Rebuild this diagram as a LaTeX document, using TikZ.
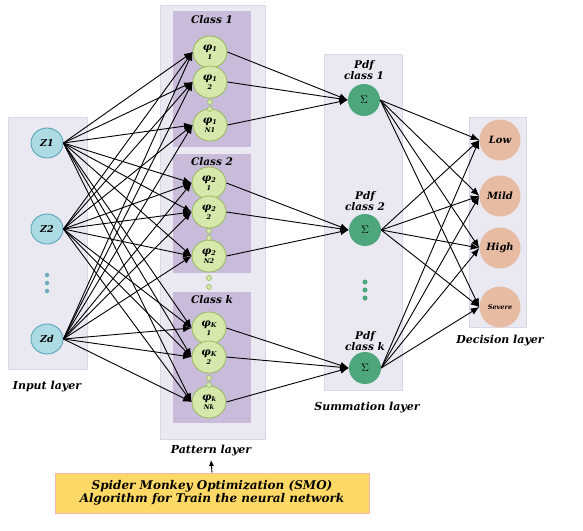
\documentclass[tikz,border=0pt]{standalone}
\usepackage{fontspec}
\setmainfont{DejaVu Serif}
\usetikzlibrary{arrows.meta,shapes.geometric}
\definecolor{panelc}{HTML}{EAE8F1}
\definecolor{panelb}{HTML}{DAD8E6}
\definecolor{classc}{HTML}{C9BCDA}
\definecolor{inpc}{HTML}{ADDBE4}
\definecolor{inpb}{HTML}{4E9FB4}
\definecolor{patc}{HTML}{D6E8AC}
\definecolor{patb}{HTML}{98B95A}
\definecolor{sumc}{HTML}{4EA67C}
\definecolor{decc}{HTML}{E8BBA3}
\definecolor{smoc}{HTML}{FFD966}
\definecolor{smob}{HTML}{F2B8A8}
\newcommand{\ph}[2]{{\fontsize{10.5}{10.5}\selectfont φ\raisebox{-1.5pt}{\fontsize{6.5}{6.5}\selectfont #1}}\\[-1pt]{\fontsize{6.5}{6.5}\selectfont #2}}
\begin{document}
\begin{tikzpicture}[x=1pt,y=-1pt,
  panel/.style={fill=panelc,draw=panelb,line width=0.8pt},
  classbox/.style={fill=classc,draw=none},
  bi/.style={font=\fontsize{#1}{#1}\selectfont\bfseries\itshape},
  inp/.style={ellipse,minimum width=32pt,minimum height=30pt,inner sep=0pt,fill=inpc,draw=inpb,line width=0.8pt,bi=9.5},
  pat/.style={ellipse,minimum width=34pt,minimum height=32pt,inner sep=0pt,fill=patc,draw=patb,line width=0.8pt,align=center,bi=10},
  sumn/.style={circle,minimum size=32pt,inner sep=0pt,fill=sumc,font=\fontsize{11}{11}\selectfont},
  dec/.style={circle,minimum size=41pt,inner sep=0pt,fill=decc},
  conn/.style={line width=0.9pt,-{Latex[length=8.5pt,width=7pt]}},
  lbl/.style={bi=11},
  dotb/.style={circle,minimum size=4.5pt,inner sep=0pt,fill=inpb!85},
  dotp/.style={circle,minimum size=5pt,inner sep=0pt,fill=patc,draw=patb,line width=0.6pt},
  dots/.style={circle,minimum size=5pt,inner sep=0pt,fill=sumc}]
\useasboundingbox (0,0) rectangle (583,530);
% panels
\draw[panel] (8,117) rectangle (87,369);
\draw[panel] (160,5) rectangle (265,439);
\draw[panel] (324,54) rectangle (402,390);
\draw[panel] (469,117) rectangle (526,327);
\fill[classbox] (173,11) rectangle (251,147);
\fill[classbox] (173,154) rectangle (251,273);
\fill[classbox] (173,292) rectangle (251,423);
% input layer
\node[inp] (z1) at (47,143) {Z1};
\node[inp] (z2) at (47,229) {Z2};
\node[inp] (zd) at (47,339) {Zd};
\node[dotb] (id1) at (47,275) {};
\node[dotb] (id2) at (47,283) {};
\node[dotb] (id3) at (47,291) {};
\node[lbl] (linput) at (47,387) {Input layer};
% pattern layer
\node[bi=10.5] (c1) at (212,20) {Class 1};
\node[bi=10.5] (c2) at (212,162) {Class 2};
\node[bi=10.5] (ck) at (212,300) {Class k};
\node[pat] (p11) at (210,52) {\ph{1}{1}};
\node[pat] (p12) at (210,82) {\ph{1}{2}};
\node[pat] (p1n) at (210,125) {\ph{1}{N1}};
\node[pat] (p21) at (209,183) {\ph{2}{1}};
\node[pat] (p22) at (209,212) {\ph{2}{2}};
\node[pat] (p2n) at (209,256) {\ph{2}{N2}};
\node[pat] (pk1) at (209,328) {\ph{K}{1}};
\node[pat] (pk2) at (209,357) {\ph{K}{2}};
\node[pat] (pkn) at (209,402) {\ph{k}{Nk}};
\node[dotp] (pd1) at (210,102) {};
\node[dotp] (pd2) at (210,109) {};
\node[dotp] (pd3) at (209,231) {};
\node[dotp] (pd4) at (209,238) {};
\node[dotp] (pd5) at (209,278) {};
\node[dotp] (pd6) at (209,287) {};
\node[dotp] (pd7) at (209,378) {};
\node[dotp] (pd8) at (209,385) {};
\node[lbl] (lpat) at (211,451) {Pattern layer};
% summation layer
\node[sumn] (s1) at (364,100) {$\Sigma$};
\node[sumn] (s2) at (365,230) {$\Sigma$};
\node[sumn] (sk) at (365,368) {$\Sigma$};
\node[bi=10.5,align=center] (ls1) at (364,70) {Pdf\\[1pt]class 1};
\node[bi=10.5,align=center] (ls2) at (365,201) {Pdf\\[1pt]class 2};
\node[bi=10.5,align=center] (lsk) at (365,341) {Pdf\\[1pt]class k};
\node[dots] (sd1) at (365,282) {};
\node[dots] (sd2) at (365,290) {};
\node[dots] (sd3) at (365,298) {};
\node[lbl] (lsum) at (367,408) {Summation layer};
% decision layer
\node[dec,bi=10] (low) at (500,140) {Low};
\node[dec,bi=10] (mild) at (500,196) {Mild};
\node[dec,bi=10] (high) at (500,248) {High};
\node[dec,bi=6.5] (sev) at (500,307) {Severe};
\node[lbl] (ldec) at (500,341) {Decision layer};
% SMO box
\node[fill=smoc,draw=smob,line width=0.8pt,minimum width=314pt,minimum height=40pt,align=center,bi=12] (smo) at (212,493) {Spider Monkey Optimization (SMO)\\[1pt]Algorithm for Train the neural network};
\draw[line width=0.9pt,-{Latex[length=6pt,width=5pt]}] (smo.north) -- (lpat.south);
% connectors input -> pattern
\foreach \i in {z1,z2,zd}
  \foreach \p in {p11,p12,p1n,p21,p22,p2n,pk1,pk2,pkn}
    \draw[conn] (\i.east) -- (\p.west);
% pattern -> summation
\foreach \p in {p11,p12,p1n} \draw[conn] (\p.east) -- (s1.west);
\foreach \p in {p21,p22,p2n} \draw[conn] (\p.east) -- (s2.west);
\foreach \p in {pk1,pk2,pkn} \draw[conn] (\p.east) -- (sk.west);
% summation -> decision
\foreach \s in {s1,s2,sk}
  \foreach \d in {low,mild,high,sev}
    \draw[conn] (\s.east) -- (\d.west);
\end{tikzpicture}
\end{document}
